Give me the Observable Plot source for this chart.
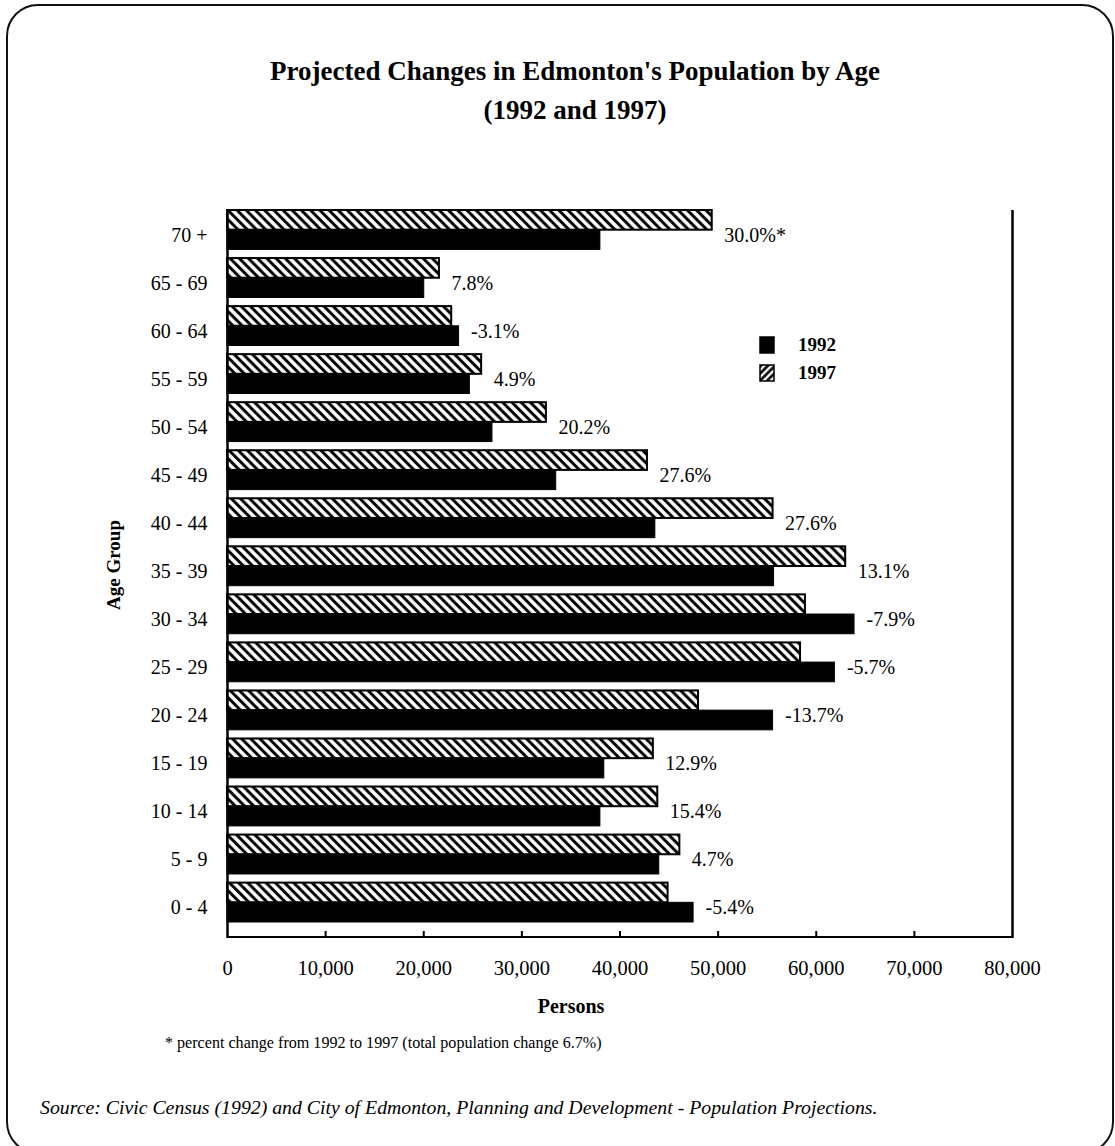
<!DOCTYPE html>
<html>
<head>
<meta charset="utf-8">
<script src="https://cdn.jsdelivr.net/npm/d3@7"></script>
<script src="https://cdn.jsdelivr.net/npm/@observablehq/plot@0.6"></script>
<style>
  html, body { margin: 0; padding: 0; background: #fff; }
  body { width: 1115px; height: 1146px; overflow: hidden; position: relative;
         font-family: "Liberation Serif", "Times New Roman", serif; color: #000; }
  #sheet { position: absolute; left: 6px; top: 4px; width: 1108px; height: 1150px;
           box-sizing: border-box; border: 2px solid #111; border-radius: 32px; }
  .abs { position: absolute; white-space: nowrap; line-height: 1; }
  .title { font-weight: bold; font-size: 27px; transform: translateX(-50%); }
  #chart { position: absolute; left: 0; top: 180px; }
  #legend { position: absolute; left: 759px; top: 331px; }
  .legend-row { display: flex; align-items: center; height: 28px; }
  .legend-row span { margin-left: 23px; font-weight: bold; font-size: 19px; }
</style>
</head>
<body>
<div id="sheet"></div>
<div class="abs title" style="left:575px; top:58px;">Projected Changes in Edmonton's Population by Age</div>
<div class="abs title" style="left:575px; top:97px;">(1992 and 1997)</div>
<div id="chart"></div>
<div id="legend"></div>
<div class="abs" style="left:113px; top:565px; font-weight:bold; font-size:19px; transform:translate(-50%,-50%) rotate(-90deg);">Age Group</div>
<div class="abs" style="left:571px; top:996px; font-weight:bold; font-size:20px; transform:translateX(-50%);">Persons</div>
<div class="abs" style="left:165px; top:1035px; font-size:16.1px;">* percent change from 1992 to 1997 (total population change 6.7%)</div>
<div class="abs" style="left:40px; top:1098px; font-size:19.8px; font-style:italic;">Source: Civic Census (1992) and City of Edmonton, Planning and Development - Population Projections.</div>

<script>
// Age groups, oldest at the top
const ageGroups = ["70 +", "65 - 69", "60 - 64", "55 - 59", "50 - 54", "45 - 49", "40 - 44",
                   "35 - 39", "30 - 34", "25 - 29", "20 - 24", "15 - 19", "10 - 14", "5 - 9", "0 - 4"];
// Persons per age group
const pop1992 = [38000, 20050, 23600, 24700, 27000, 33500, 43600, 55700, 63900, 61900, 55600, 38400, 38000, 44000, 47500];
const pop1997 = [49400, 21600, 22850, 25900, 32500, 42800, 55600, 63000, 58900, 58400, 48000, 43400, 43850, 46100, 44900];
// Percent change 1992 -> 1997
const changeLabels = ["30.0%*", "7.8%", "-3.1%", "4.9%", "20.2%", "27.6%", "27.6%", "13.1%",
                      "-7.9%", "-5.7%", "-13.7%", "12.9%", "15.4%", "4.7%", "-5.4%"];
const years = ["1992", "1997"];
const xDomain = [0, 80000];
const xTicks = [0, 10000, 20000, 30000, 40000, 50000, 60000, 70000, 80000];

const rows = ageGroups.map((age, i) => ({
  age, v1992: pop1992[i], v1997: pop1997[i], change: changeLabels[i]
}));

// layout of the plotting area
const W = 1115, H = 850;
const mTop = 30, mBottom = 92, mLeft = 227, mRight = 103;
const frameH = H - mTop - mBottom;
const yRange = [30, 742];
const padInner = 0.18;
const step = (yRange[1] - yRange[0]) / (ageGroups.length - padInner);
const half = step * (1 - padInner) / 2;

const chart = Plot.plot({
  width: W, height: H,
  marginTop: mTop, marginBottom: mBottom, marginLeft: mLeft, marginRight: mRight,
  style: { fontFamily: "Liberation Serif, Times New Roman, serif", fontSize: "20px",
           color: "#000", background: "transparent", overflow: "visible" },
  x: { domain: xDomain },
  y: { domain: ageGroups, range: yRange, paddingInner: padInner, paddingOuter: 0, round: false },
  marks: [
    // 1997 (hatched, upper half of each band)
    Plot.barX(rows, { y: "age", x: "v1997", fill: "url(#hatch1997)", stroke: "#000",
                      strokeWidth: 2, insetBottom: half }),
    // 1992 (solid, lower half)
    Plot.barX(rows, { y: "age", x: "v1992", fill: "#000", stroke: "#000",
                      strokeWidth: 1, insetTop: half }),
    // percent change labels
    Plot.text(rows, { y: "age", x: d => Math.max(d.v1992, d.v1997), text: "change",
                      textAnchor: "start", dx: 12, dy: 5, fill: "#000" }),
    // left axis and right frame line
    Plot.ruleX(xDomain, { stroke: "#000", strokeWidth: 2.5 }),
    // bottom axis line
    Plot.rect([xDomain], { x1: d => d[0], x2: d => d[1], insetTop: frameH - 2, fill: "#000" }),
    // inward tick marks
    Plot.ruleX(xTicks.slice(1, -1), { stroke: "#000", strokeWidth: 2, insetTop: frameH - 7 }),
    Plot.axisX({ ticks: xTicks, tickFormat: d3.format(","), tickSize: 0, tickPadding: 22,
                 label: null, fontSize: 20.5 }),
    Plot.axisY({ tickSize: 0, tickPadding: 20, dy: 5, label: null })
  ]
});

// hatch fill used by the 1997 bars
const defs = d3.select(chart).insert("defs", ":first-child");
function addHatch(sel, id, angle, size, lw) {
  const p = sel.append("pattern").attr("id", id).attr("patternUnits", "userSpaceOnUse")
    .attr("width", size).attr("height", size).attr("patternTransform", `rotate(${angle})`);
  p.append("rect").attr("width", size).attr("height", size).attr("fill", "#fff");
  p.append("line").attr("x1", size / 2).attr("x2", size / 2).attr("y1", 0).attr("y2", size)
    .attr("stroke", "#000").attr("stroke-width", lw);
}
addHatch(defs, "hatch1997", -45, 6.5, 3);
document.getElementById("chart").append(chart);

// legend
const legend = d3.select("#legend");
years.forEach((yr, i) => {
  const row = legend.append("div").attr("class", "legend-row");
  const s = row.append("svg").attr("width", 16).attr("height", 18);
  if (i === 1) {
    addHatch(s.append("defs"), "hatchKey", 45, 5, 2.6);
  }
  s.append("rect").attr("x", 1).attr("y", 1).attr("width", 14).attr("height", 16)
    .attr("fill", i === 0 ? "#000" : "url(#hatchKey)").attr("stroke", "#000").attr("stroke-width", 1.5);
  row.append("span").text(yr);
});
</script>
</body>
</html>
